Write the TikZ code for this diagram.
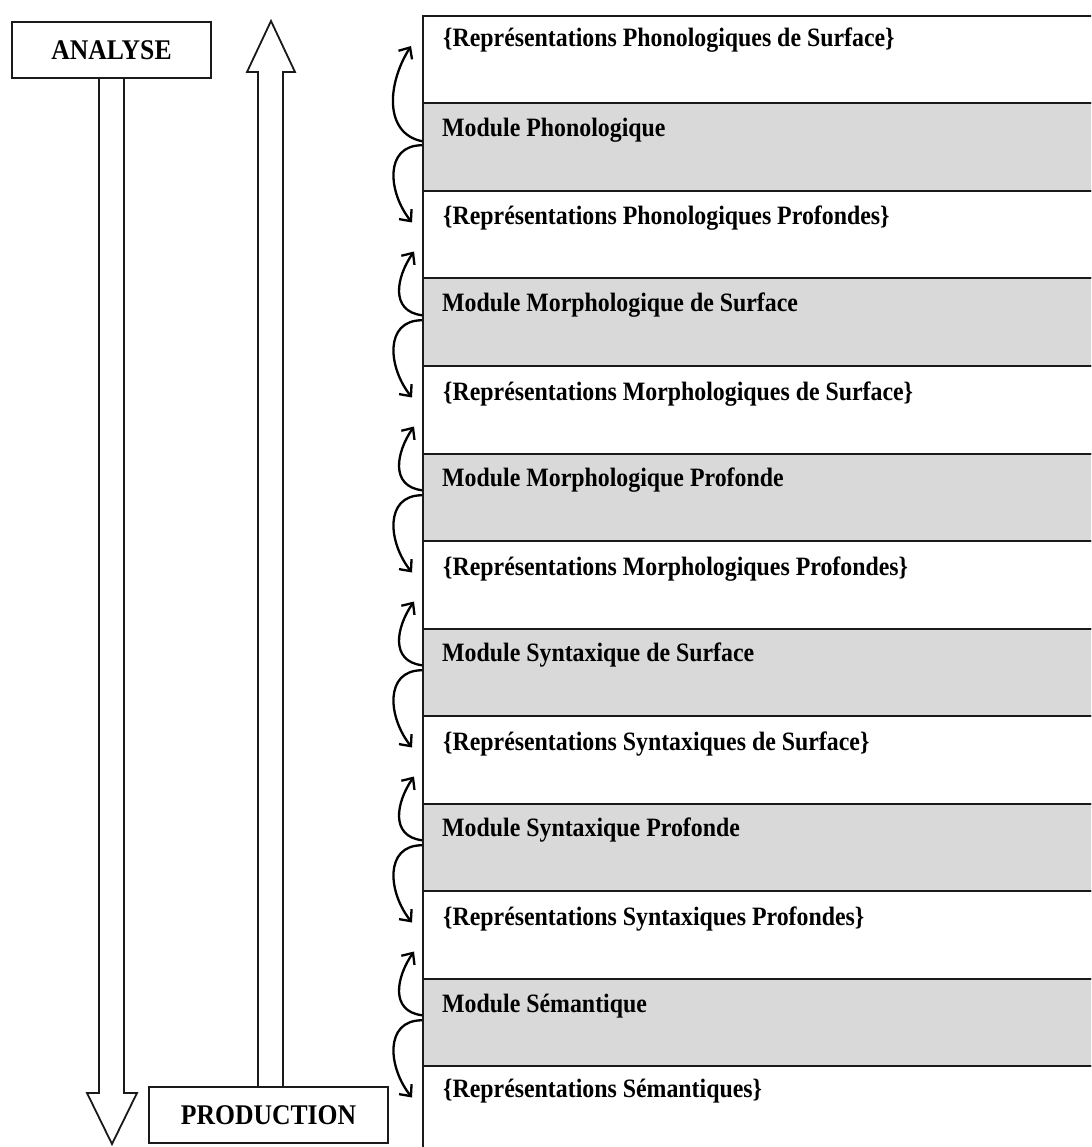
\documentclass[tikz,border=0pt]{standalone}
\usepackage{fontspec}
\setmainfont{Liberation Serif}[FakeStretch=0.9]
\usetikzlibrary{arrows.meta}
\definecolor{modgray}{HTML}{D9D9D9}
\definecolor{edge}{HTML}{1A1A1A}
\begin{document}
\begin{tikzpicture}[x=1pt,y=-1pt,
  rowbox/.style={draw=edge,line width=2pt,anchor=north west,minimum width=720pt,minimum height=87.5pt,inner sep=0pt},
  repbox/.style={rowbox,fill=white},
  modbox/.style={rowbox,fill=modgray},
  rowtxt/.style={anchor=base west,inner sep=0pt,font=\fontsize{26.5}{30}\selectfont\bfseries,text=black},
  lblbox/.style={draw=edge,line width=2pt,inner sep=0pt,font=\fontsize{28.5}{32}\selectfont\bfseries},
  dblarrow/.style={draw=edge,line width=1.8pt,line join=miter},
  curv/.style={draw=black,line width=2.3pt,-{Straight Barb[length=9pt,width=16pt,line width=2.3pt]}}
]
\useasboundingbox (0,0) rectangle (1091,1147);
\fill[white] (0,0) rectangle (1091,1147);
\clip (0,0) rectangle (1091,1147);

% rows
\node[repbox] (r1)  at (422,15)    {};
\node[modbox] (r2)  at (422,102.5) {};
\node[repbox] (r3)  at (422,190)   {};
\node[modbox] (r4)  at (422,277.5) {};
\node[repbox] (r5)  at (422,365)   {};
\node[modbox] (r6)  at (422,452.5) {};
\node[repbox] (r7)  at (422,540)   {};
\node[modbox] (r8)  at (422,627.5) {};
\node[repbox] (r9)  at (422,715)   {};
\node[modbox] (r10) at (422,802.5) {};
\node[repbox] (r11) at (422,890)   {};
\node[modbox] (r12) at (422,977.5) {};
\node[repbox] (r13) at (422,1065)  {};

% texts
\node[rowtxt] (t1)  at ([xshift=21,yshift=-32]r1.north west)  {\{Représentations Phonologiques de Surface\}};
\node[rowtxt] (t2)  at ([xshift=20,yshift=-34]r2.north west)  {Module Phonologique};
\node[rowtxt] (t3)  at ([xshift=21,yshift=-35]r3.north west)  {\{Représentations Phonologiques Profondes\}};
\node[rowtxt] (t4)  at ([xshift=20,yshift=-34]r4.north west)  {Module Morphologique de Surface};
\node[rowtxt] (t5)  at ([xshift=21,yshift=-35]r5.north west)  {\{Représentations Morphologiques de Surface\}};
\node[rowtxt] (t6)  at ([xshift=20,yshift=-34]r6.north west)  {Module Morphologique Profonde};
\node[rowtxt] (t7)  at ([xshift=21,yshift=-35]r7.north west)  {\{Représentations Morphologiques Profondes\}};
\node[rowtxt] (t8)  at ([xshift=20,yshift=-34]r8.north west)  {Module Syntaxique de Surface};
\node[rowtxt] (t9)  at ([xshift=21,yshift=-35]r9.north west)  {\{Représentations Syntaxiques de Surface\}};
\node[rowtxt] (t10) at ([xshift=20,yshift=-34]r10.north west) {Module Syntaxique Profonde};
\node[rowtxt] (t11) at ([xshift=21,yshift=-35]r11.north west) {\{Représentations Syntaxiques Profondes\}};
\node[rowtxt] (t12) at ([xshift=20,yshift=-35]r12.north west) {Module Sémantique};
\node[rowtxt] (t13) at ([xshift=21,yshift=-32]r13.north west) {\{Représentations Sémantiques\}};

% curved arrows
\coordinate (u2) at (411,46);
\coordinate (d2) at (412,222.5);
\draw[curv] ([yshift=6]r2.west) .. controls +(-38,-8) and +(-24,38) .. (u2);
\draw[curv] ([yshift=2]r2.west) .. controls +(-38,0) and +(-24,-30) .. (d2);
\foreach \i/\ym in {4/277.5,6/452.5,8/627.5,10/802.5,12/977.5}{
  \coordinate (u\i) at (414,\ym-26);
  \coordinate (d\i) at (412,\ym+120);
  \draw[curv] ([yshift=7]r\i.west) .. controls +(-32,-4) and +(-18,26) .. (u\i);
  \draw[curv] ([yshift=2]r\i.west) .. controls +(-38,0) and +(-24,-30) .. (d\i);
}

% left labels
\node[lblbox,minimum width=199pt,minimum height=56pt] (an) at (111.5,50) {ANALYSE};
\node[lblbox,minimum width=239pt,minimum height=56pt] (pr) at (268.5,1115) {PRODUCTION};

% big hollow arrows
\draw[dblarrow] ([xshift=-12.5]an.south) -- ++(0,1014) -- ++(-12,0) -- ++(25,51)
  -- ++(25,-51) -- ++(-13,0) -- ([xshift=12.5]an.south);
\draw[dblarrow] ([xshift=-10.5]pr.north) -- ++(0,-1014) -- ++(-11,0) -- ++(24,-51)
  -- ++(24,51) -- ++(-12,0) -- ([xshift=14.5]pr.north);
\end{tikzpicture}
\end{document}
